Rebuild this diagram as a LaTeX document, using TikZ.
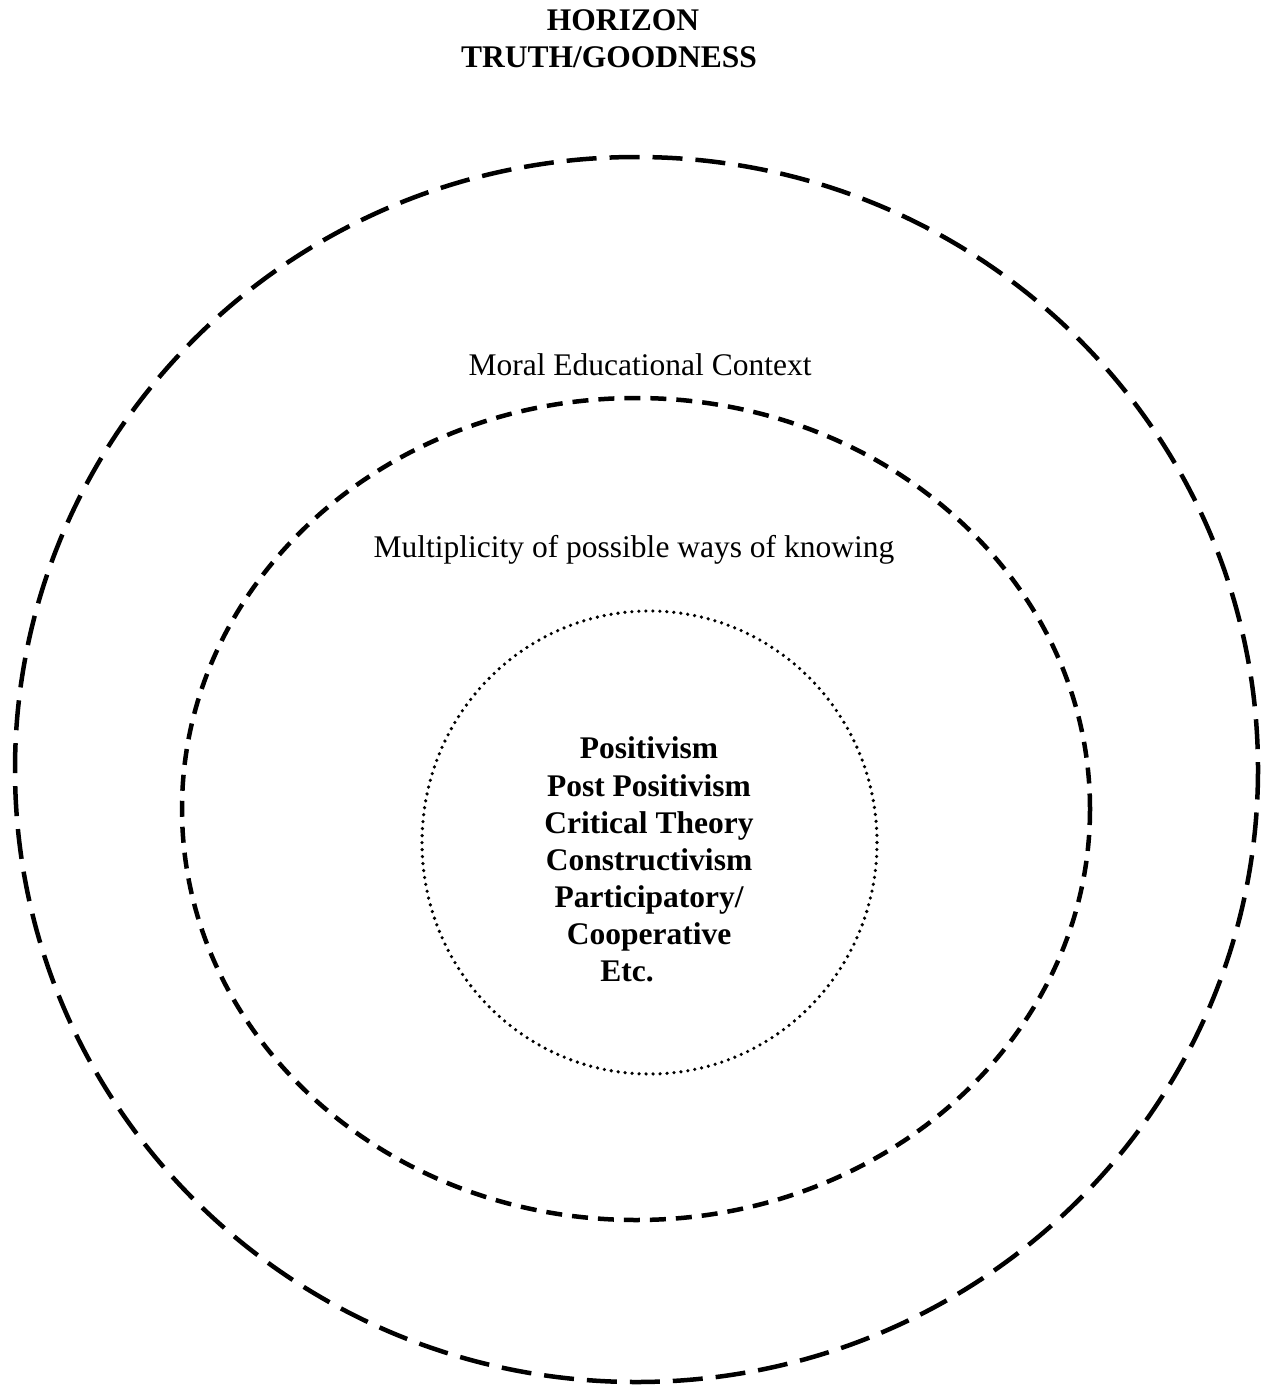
\documentclass[tikz,border=0pt]{standalone}
\usepackage{fontspec}
\setmainfont{Liberation Serif}
\tikzset{
  outerring/.style={line width=4.5pt, dash pattern=on 30pt off 13pt},
  midring/.style={line width=4.5pt, dash pattern=on 16pt off 10pt},
  innerring/.style={line width=3.6pt, line cap=round, dash pattern=on 0pt off 7pt},
  lbl/.style={anchor=base, inner sep=0pt, font=\fontsize{31.5}{37}\selectfont},
  blbl/.style={lbl, font=\fontsize{31.5}{37}\selectfont\bfseries},
}
\begin{document}
\begin{tikzpicture}[x=1pt,y=-1pt]
\useasboundingbox (0,0) rectangle (1268,1386);
\draw[outerring] (636.5,769.5) ellipse [x radius=621.5, y radius=612.5];
\draw[midring] (636,809) ellipse [x radius=454, y radius=411];
\draw[innerring] (649.5,842.5) ellipse [x radius=227.5, y radius=231.5];
\node[blbl] (horizon) at (623,31) {HORIZON};
\node[blbl] (truth) at (609,68) {TRUTH/GOODNESS};
\node[lbl] (moral) at (640,375) {Moral Educational Context};
\node[lbl] (multi) at (634,557) {Multiplicity of possible ways of knowing};
\node[blbl] (p1) at (649,758) {Positivism};
\node[blbl] (p2) at (649,796) {Post Positivism};
\node[blbl] (p3) at (649,833) {Critical Theory};
\node[blbl] (p4) at (649,870) {Constructivism};
\node[blbl] (p5) at (649,907) {Participatory/};
\node[blbl] (p6) at (649,944) {Cooperative};
\node[blbl] (p7) at (627,981) {Etc.};
\end{tikzpicture}
\end{document}
